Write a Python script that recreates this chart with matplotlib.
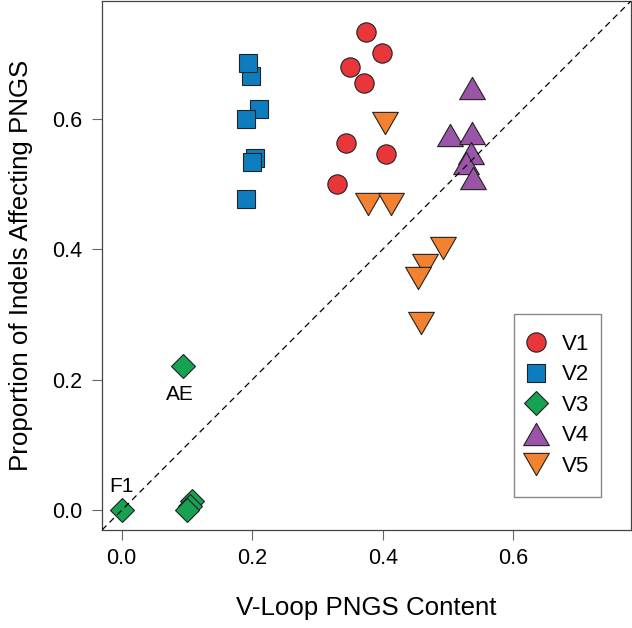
import matplotlib
matplotlib.use("Agg")
import matplotlib.pyplot as plt
from matplotlib.path import Path
from matplotlib.patches import Rectangle
from matplotlib.lines import Line2D

plt.rcParams.update({
    'font.family': ['Liberation Sans', 'DejaVu Sans'],
    'axes.edgecolor': '#444444',
    'axes.linewidth': 0.9,
    'xtick.color': '#666666',
    'ytick.color': '#666666',
    'xtick.labelcolor': '#000000',
    'ytick.labelcolor': '#000000',
})

# data
v1_x = [0.374, 0.398, 0.350, 0.371, 0.343, 0.405, 0.330]
v1_y = [0.732, 0.701, 0.679, 0.655, 0.563, 0.546, 0.499]

v2_x = [0.198, 0.194, 0.211, 0.190, 0.205, 0.200, 0.190]
v2_y = [0.665, 0.685, 0.614, 0.600, 0.540, 0.534, 0.477]

v3_x = [0.094, 0.000, 0.108, 0.105, 0.100]
v3_y = [0.221, 0.000, 0.014, 0.006, 0.000]

v4_x = [0.537, 0.503, 0.537, 0.535, 0.527, 0.538]
v4_y = [0.647, 0.575, 0.578, 0.547, 0.532, 0.509]

v5_x = [0.404, 0.378, 0.413, 0.492, 0.464, 0.454, 0.459]
v5_y = [0.593, 0.469, 0.469, 0.401, 0.376, 0.356, 0.287]

labels = ['V1', 'V2', 'V3', 'V4', 'V5']
colors = ['#E8363A', '#0E7DBF', '#17A153', '#9B55A8', '#F28230']

tri_up = Path([(-1, -0.866), (1, -0.866), (0, 0.866), (-1, -0.866)], closed=True)
tri_dn = Path([(-1, 0.866), (1, 0.866), (0, -0.866), (-1, 0.866)], closed=True)

markers = ['o', 's', 'D', tri_up, tri_dn]
sizes = [13.9, 12.6, 12.2, 18.5, 18.5]

series = [(v1_x, v1_y), (v2_x, v2_y), (v3_x, v3_y), (v4_x, v4_y), (v5_x, v5_y)]

fig = plt.figure(figsize=(6.32, 6.28), dpi=100)
ax = fig.add_axes([0.1614, 0.1561, 0.837, 0.8424])

handles = []
for (xs, ys), lab, col, mk, ms in zip(series, labels, colors, markers, sizes):
    ax.plot(xs, ys, linestyle='none', marker=mk, markersize=ms,
            markerfacecolor=col, markeredgecolor='#222222',
            markeredgewidth=0.8, zorder=3)
    handles.append(Line2D([], [], linestyle='none', marker=mk, markersize=ms,
                          markerfacecolor=col, markeredgecolor='#222222',
                          markeredgewidth=0.8, label=lab))

ax.axline((0, 0), slope=1, color='black', linewidth=0.9,
          linestyle=(0, (5, 3.5)), zorder=4)

ax.text(0.0, 0.037, 'F1', ha='center', va='center', fontsize=15)
ax.text(0.089, 0.178, 'AE', ha='center', va='center', fontsize=15)

ax.set_xlim(-0.03, 0.78)
ax.set_ylim(-0.03, 0.78)
ax.set_xticks([0.0, 0.2, 0.4, 0.6])
ax.set_yticks([0.0, 0.2, 0.4, 0.6])
ax.set_xticklabels(['0.0', '0.2', '0.4', '0.6'])
ax.set_yticklabels(['0.0', '0.2', '0.4', '0.6'])
ax.tick_params(axis='both', length=7.2, width=0.8, labelsize=15.5)
ax.tick_params(axis='x', pad=5.8)
ax.tick_params(axis='y', pad=7.2)

ax.set_xlabel('V-Loop PNGS Content', fontsize=18.6)
ax.set_ylabel('Proportion of Indels Affecting PNGS', fontsize=18.6)
ax.xaxis.set_label_coords(0.5, -0.125)
ax.yaxis.set_label_coords(-0.13, 0.5)

# legend box
ax.add_patch(Rectangle((0.779, 0.0624), 0.164, 0.346, transform=ax.transAxes,
                       facecolor='white', edgecolor='#888888', linewidth=1.0,
                       zorder=5))
leg = ax.legend(handles=handles, loc='center', bbox_to_anchor=(0.861, 0.2354),
                frameon=False, fontsize=16, handlelength=0.9,
                handletextpad=0.7, labelspacing=0.43, borderpad=0.0)
leg.set_zorder(6)

fig.savefig('out.png', dpi=100)
